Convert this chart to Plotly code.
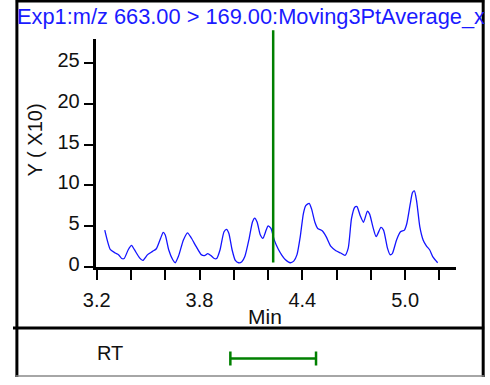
import plotly.graph_objects as go

# chromatogram: retention time (min) vs intensity (Y x10)
rt_min = [3.247, 3.28, 3.308, 3.327, 3.346, 3.36, 3.384, 3.403, 3.42, 3.45,
          3.469, 3.497, 3.526, 3.548, 3.573, 3.588, 3.60, 3.62, 3.643, 3.658,
          3.677, 3.706, 3.73, 3.753, 3.78, 3.81, 3.829, 3.848, 3.867, 3.886,
          3.90, 3.92, 3.943, 3.958, 3.971, 3.99, 4.009, 4.028, 4.047, 4.065,
          4.09, 4.109, 4.122, 4.136, 4.155, 4.17, 4.189, 4.20, 4.217, 4.236,
          4.26, 4.28, 4.30, 4.33, 4.35, 4.369, 4.388, 4.406, 4.42, 4.44,
          4.454, 4.473, 4.49, 4.516, 4.539, 4.567, 4.596, 4.624, 4.649, 4.668,
          4.687, 4.706, 4.719, 4.738, 4.757, 4.78, 4.793, 4.812, 4.831, 4.859,
          4.874, 4.897, 4.912, 4.925, 4.95, 4.973, 4.996, 5.01, 5.03, 5.043,
          5.054, 5.067, 5.086, 5.105, 5.124, 5.143, 5.162, 5.19]
intensity = [4.55, 2.15, 1.75, 1.55, 1.08, 1.08, 2.15, 2.67, 2.15, 1.16,
             0.84, 1.55, 1.95, 2.27, 3.55, 4.27, 3.95, 2.15, 0.96, 0.56,
             1.35, 3.35, 4.22, 3.55, 2.55, 1.55, 1.43, 1.67, 1.43, 1.08,
             1.08, 2.15, 4.34, 4.63, 4.15, 2.15, 0.84, 0.56, 0.68, 1.35,
             3.55, 5.54, 6.02, 5.54, 3.95, 3.55, 4.55, 5.06, 4.75, 3.35,
             2.2, 1.5, 0.96, 0.56, 0.76, 1.55, 3.75, 6.54, 7.54, 7.82,
             7.14, 5.54, 4.75, 4.46, 3.75, 2.55, 2.03, 1.75, 1.47, 2.35,
             5.94, 7.33, 7.42, 6.3, 5.5, 6.86, 6.5, 4.94, 3.75, 4.87,
             4.55, 2.35, 1.55, 1.67, 3.35, 4.34, 4.55, 5.35, 7.74, 9.13,
             9.33, 8.13, 4.94, 3.35, 2.63, 2.15, 1.28, 0.56]

# expected retention time and its window
rt_peak = 4.23
rt_half_window = 0.25

x_tick_vals = [3.2, 3.8, 4.4, 5.0]
y_tick_vals = [0, 5, 10, 15, 20, 25]

title_text = "Exp1:m/z 663.00 > 169.00:Moving3PtAverage_x"

W, H = 490, 385
FONT = "Liberation Sans, Arial, sans-serif"
TXT = "#111111"


def px(x):
    return x / W


def py(y):
    return 1 - y / H


fig = go.Figure()

fig.add_trace(go.Scatter(
    x=rt_min, y=intensity, mode="lines",
    line=dict(color="#1414ff", width=1.3, shape="spline", smoothing=0.6),
    hoverinfo="skip", showlegend=False))

# RT window bar in the lower panel
fig.add_trace(go.Scatter(
    x=[rt_peak], y=[0.38], xaxis="x", yaxis="y2", mode="markers",
    marker=dict(size=1, color="#008000"),
    error_x=dict(type="constant", value=rt_half_window, color="#008000",
                 thickness=2.5, width=7),
    hoverinfo="skip", showlegend=False))

fig.update_layout(
    width=W, height=H,
    margin=dict(l=0, r=0, t=0, b=0),
    paper_bgcolor="white", plot_bgcolor="white",
    font=dict(family=FONT, color=TXT, size=20),
    xaxis=dict(domain=[px(85), px(455)], range=[3.1943, 5.2966],
               tickvals=x_tick_vals, tickformat=".1f",
               ticks="outside", ticklen=10, tickwidth=2, tickcolor="black",
               minor=dict(dtick=0.2, tick0=3.2, ticks="outside", ticklen=10,
                          tickwidth=2, tickcolor="black"),
               showline=True, linewidth=3, linecolor="black",
               showgrid=False, zeroline=False, anchor="y",
               ticklabelstandoff=3,
               tickfont=dict(size=20)),
    yaxis=dict(domain=[py(273), py(40)], range=[0, 27.87],
               tickvals=y_tick_vals,
               ticks="outside", ticklen=9, tickwidth=2, tickcolor="black",
               showline=True, linewidth=3, linecolor="black",
               showgrid=False, zeroline=False, anchor="x",
               ticklabelshift=-3,
               tickfont=dict(size=20)),
    yaxis2=dict(domain=[0, py(335)], range=[0, 1], visible=False,
                anchor="x"),
)

frame = dict(color="black", width=3)
fig.add_shape(type="line", xref="paper", yref="paper",
              x0=px(4), x1=px(4), y0=py(0), y1=py(385), line=frame)
fig.add_shape(type="line", xref="paper", yref="paper",
              x0=px(483), x1=px(483), y0=py(0), y1=py(385), line=frame)
fig.add_shape(type="line", xref="paper", yref="paper",
              x0=px(3), x1=px(484), y0=py(1), y1=py(1), line=frame)
fig.add_shape(type="line", xref="paper", yref="paper",
              x0=px(0), x1=px(484), y0=py(335), y1=py(335), line=frame)
fig.add_shape(type="line", xref="paper", yref="paper",
              x0=px(3), x1=px(484), y0=py(384), y1=py(384),
              line=dict(color="#888888", width=1.5))

# RT marker line
fig.add_shape(type="line", xref="x", yref="paper",
              x0=rt_peak, x1=rt_peak, y0=py(268), y1=py(31),
              line=dict(color="#008000", width=2.5))

fig.add_annotation(text=title_text, xref="paper", yref="paper",
                   x=px(244), y=py(17), showarrow=False,
                   xanchor="center", yanchor="middle",
                   font=dict(size=21.8, color="#1a1aff", family=FONT))
fig.add_annotation(text="Y ( X10)", xref="paper", yref="paper",
                   x=px(23), y=py(143), showarrow=False, textangle=-90,
                   xanchor="center", yanchor="middle",
                   font=dict(size=20, color=TXT, family=FONT))
fig.add_annotation(text="Min", xref="paper", yref="paper",
                   x=px(259), y=py(323), showarrow=False,
                   xanchor="center", yanchor="middle",
                   font=dict(size=21, color=TXT, family=FONT))
fig.add_annotation(text="RT", xref="paper", yref="paper",
                   x=px(100), y=py(361), showarrow=False,
                   xanchor="center", yanchor="middle",
                   font=dict(size=20, color=TXT, family=FONT))

# the page body has a default 8px margin; drop it so the figure sits at 0,0
fig.write_html("out.html", config={"displayModeBar": False},
               post_script="document.body.style.margin = '0';")
